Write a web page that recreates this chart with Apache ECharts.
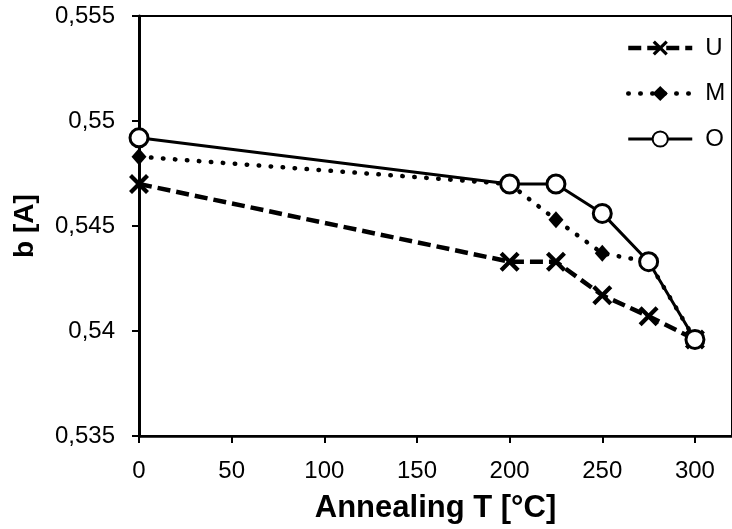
<!DOCTYPE html>
<html>
<head>
<meta charset="utf-8">
<script src="https://cdn.jsdelivr.net/npm/echarts@6/dist/echarts.min.js"></script>
<style>html,body{margin:0;padding:0;background:#fff}#c{width:732px;height:529px}</style>
</head>
<body>
<div id="c"></div>
<script>
const temps = [0, 200, 225, 250, 275, 300];
const seriesU = [0.5470, 0.5433, 0.5433, 0.5417, 0.5407, 0.5396];
const seriesM = [0.5483, 0.5470, 0.5453, 0.5437, 0.5433, 0.5396];
const seriesO = [0.5492, 0.5470, 0.5470, 0.5456, 0.5433, 0.5396];
const seriesNames = ['U', 'M', 'O'];
const xTitle = 'Annealing T [°C]';
const yTitle = 'b [A]';

const pairs = arr => temps.map((t, i) => [t, arr[i]]);
const crossPath = 'path://M0,3 L3,0 L10,7 L17,0 L20,3 L13,10 L20,17 L17,20 L10,13 L3,20 L0,17 L7,10 Z';
const font = 'Arial, "Liberation Sans", sans-serif';

const styleU = {color: '#000', width: 4.5, type: [13, 6]};
const styleM = {color: '#000', width: 4.5, type: [0.5, 11.5], cap: 'round'};
const styleO = {color: '#000', width: 3, type: 'solid'};

const chart = echarts.init(document.getElementById('c'), null, {renderer: 'canvas'});
chart.setOption({
  animation: false,
  backgroundColor: '#fff',
  grid: {left: 139, top: 16, height: 420, width: 601.6, show: true, borderColor: '#000', borderWidth: 2, backgroundColor: 'transparent'},
  legend: {
    orient: 'vertical', left: 621, top: 31, itemWidth: 64, itemHeight: 19, itemGap: 21.5,
    textStyle: {fontFamily: font, fontSize: 24, color: '#000', padding: [0, 0, 0, 8]},
    data: [
      {name: seriesNames[0], lineStyle: styleU},
      {name: seriesNames[1], lineStyle: styleM},
      {name: seriesNames[2], lineStyle: styleO}
    ]
  },
  xAxis: {
    type: 'value', min: 0, max: 320, interval: 50,
    name: xTitle, nameLocation: 'middle', nameGap: 57,
    nameTextStyle: {fontFamily: font, fontSize: 31, fontWeight: 'bold', color: '#000'},
    axisLine: {lineStyle: {color: '#000', width: 2.5}},
    axisTick: {inside: false, length: 7, lineStyle: {color: '#000', width: 2}},
    axisLabel: {fontFamily: font, fontSize: 24, color: '#000', margin: 23, showMaxLabel: false},
    splitLine: {show: false}
  },
  yAxis: {
    type: 'value', min: 0.535, max: 0.555, interval: 0.005,
    name: yTitle, nameLocation: 'middle', nameGap: 100, nameRotate: 90,
    nameTextStyle: {fontFamily: font, fontSize: 28, fontWeight: 'bold', color: '#000'},
    axisLine: {lineStyle: {color: '#000', width: 3}},
    axisTick: {inside: false, length: 7, lineStyle: {color: '#000', width: 2}},
    axisLabel: {fontFamily: font, fontSize: 24, color: '#000', margin: 24,
      formatter: v => String(parseFloat(v.toFixed(3))).replace('.', ',')},
    splitLine: {show: false}
  },
  series: [
    {name: seriesNames[0], type: 'line', data: pairs(seriesU), symbol: crossPath, symbolSize: 20,
     itemStyle: {color: '#000'}, lineStyle: styleU},
    {name: seriesNames[1], type: 'line', data: pairs(seriesM), symbol: 'diamond', symbolSize: [15, 17],
     itemStyle: {color: '#000'}, lineStyle: styleM},
    {name: seriesNames[2], type: 'line', data: pairs(seriesO), symbol: 'circle', symbolSize: 18,
     itemStyle: {color: '#fff', borderColor: '#000', borderWidth: 3}, lineStyle: styleO}
  ]
});
</script>
</body>
</html>
